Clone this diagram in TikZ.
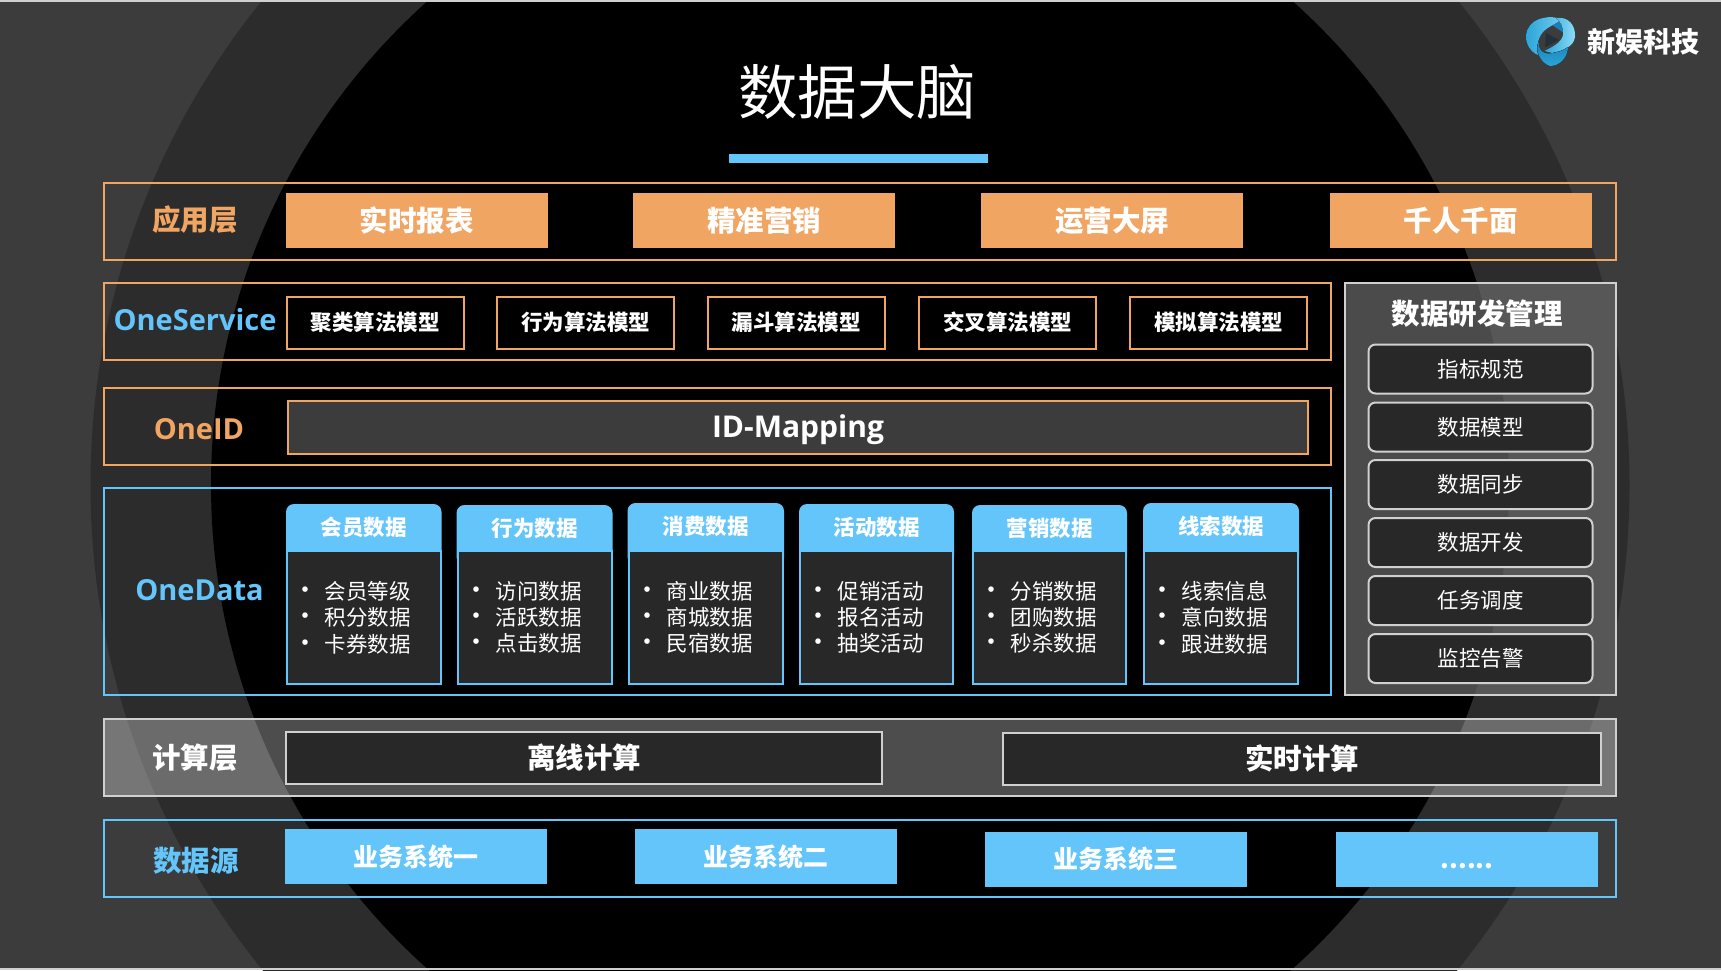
\documentclass[tikz,border=0pt]{standalone}
\usepackage{fontspec}
\setmainfont{Noto Sans CJK SC}
\newfontfamily\latinfont{Open Sans}
\definecolor{brandorange}{HTML}{F0A563}
\definecolor{brandblue}{HTML}{63C5FA}
\definecolor{ringouter}{HTML}{3C3C3C}
\definecolor{ringmid}{HTML}{2C2C2C}
\definecolor{cardfill}{HTML}{282828}
\definecolor{frameline}{HTML}{D0D0D0}
\definecolor{panellight}{HTML}{575757}
\definecolor{paneldark}{HTML}{4B4B4B}
\definecolor{logolight}{HTML}{8FDCF8}
\definecolor{logomid}{HTML}{2AA5D8}
\definecolor{logodeep}{HTML}{1B7FB5}
\definecolor{logodark}{HTML}{22303A}
\newcommand{\fsize}[1]{\fontsize{#1pt}{#1pt}\selectfont}
\newcommand{\dotitem}[1]{\makebox[20.5pt][l]{\hspace{-12pt}\fontsize{26pt}{26pt}\selectfont •}#1}

\begin{document}
\begin{tikzpicture}[x=1pt, y=-1pt, line width=2pt,
	txt/.style = {inner sep=0pt, outer sep=0pt, text=white},
	box/.style = {shape=rectangle, inner sep=0pt, outer sep=0pt, align=center, text=white},
	orangeframe/.style = {draw=brandorange},
	blueframe/.style = {draw=brandblue},
	orangebox/.style = {box, fill=brandorange, minimum width=262, minimum height=55, font=\fsize{28.5}\bfseries},
	bluebox/.style = {box, fill=brandblue, minimum width=262, minimum height=55, font=\fsize{25}\bfseries},
	algobox/.style = {box, draw=brandorange, minimum width=177, minimum height=52, font=\fsize{21.5}\bfseries},
	calcbox/.style = {box, draw=frameline, fill=cardfill, minimum height=52, font=\fsize{28.5}\bfseries},
	mgmtbox/.style = {box, draw=frameline, fill=cardfill, rounded corners=7pt, minimum width=224, minimum height=49, font=\fsize{21.5}},
	cardhead/.style = {fill=brandblue},
	cardbody/.style = {draw=brandblue, fill=cardfill},
	cardtitle/.style = {txt, font=\fsize{21.5}\bfseries},
	cardtext/.style = {txt, anchor=west, align=left, font=\fontsize{21.5pt}{26.3pt}\selectfont},
	layername/.style = {txt, font=\fsize{28.5}\bfseries},
	onename/.style = {txt, font=\latinfont\fsize{29}\bfseries}]

% background
\useasboundingbox (0,0) rectangle (1721,970);
\clip (0,0) rectangle (1721,970);
\fill[ringouter] (0,0) rectangle (1721,970);
\fill[ringmid] (860,485) circle (769.5);
\fill[black] (860,485) circle (649);
\fill[frameline] (0,0) rectangle (1721,2);
\fill[frameline] (0,968) rectangle (1721,970);

% title
\node[txt, font=\fsize{59.5}] (title) at (857,92) {数据大脑};
\fill[brandblue] (729,154) rectangle (988,163);

% logo
\begin{scope}[shift={(1526,17)}]
\fill[logodeep] (28,2) .. controls (34,1) and (40,8) .. (38,16) -- (26,8) -- cycle;
\fill[left color=logomid, right color=logolight!70!logomid] (36,2) .. controls (20,-3) and (2,2) .. (0,18) .. controls (-1,28) and (6,36) .. (12,38) .. controls (10,30) and (12,20) .. (18,14) .. controls (22,10) and (30,7) .. (36,2) -- cycle;
\fill[left color=logomid, right color=logolight] (30,1) .. controls (42,-1) and (50,8) .. (49,20) .. controls (48,30) and (36,34) .. (26,36) -- (18,34) .. controls (26,30) and (35,26) .. (37,18) .. controls (38,10) and (34,4) .. (30,1) -- cycle;
\fill[top color=logodeep, bottom color=logomid] (13,24) .. controls (12,34) and (18,38) .. (27,36) .. controls (33,35) and (38,33) .. (42,30) .. controls (42,40) and (34,49) .. (24,49) .. controls (14,46) and (8,32) .. (13,24) -- cycle;
\fill[logodark] (20,16) -- (33,23) -- (19,30) -- cycle;
\end{scope}
\node[txt, font=\fsize{28}\bfseries] (brand) at (1643,42) {新娱科技};

% frames
\draw[orangeframe] (104,183) rectangle (1615.5,260);
\draw[orangeframe] (104,283) rectangle (1331,360);
\draw[orangeframe] (104,388) rectangle (1331,465);
\draw[blueframe] (104,488) rectangle (1331,695);
\draw[blueframe] (104,820) rectangle (1615.5,897);
\begin{scope}
\clip (1345,283) rectangle (1615.5,695);
\fill[panellight] (1345,283) rectangle (1615.5,695);
\fill[paneldark] (860,485) circle (649);
\end{scope}
\draw[frameline] (1345,283) rectangle (1615.5,695);
\fill[white, opacity=.3] (104,719) rectangle (1615.5,796);
\draw[frameline] (104,719) rectangle (1615.5,796);

% application layer
\node[layername, text=brandorange] (app) at (195,220) {应用层};
\node[orangebox] (app1) at (416.5,220.5) {实时报表};
\node[orangebox] (app2) at (764,220.5) {精准营销};
\node[orangebox] (app3) at (1112,220.5) {运营大屏};
\node[orangebox] (app4) at (1460.5,220.5) {千人千面};

% OneService
\node[onename, text=brandblue] (service) at (195,320) {OneService};
\node[algobox] (algo1) at (375,322.5) {聚类算法模型};
\node[algobox] (algo2) at (585.5,322.5) {行为算法模型};
\node[algobox] (algo3) at (796,322.5) {漏斗算法模型};
\node[algobox] (algo4) at (1007.5,322.5) {交叉算法模型};
\node[algobox] (algo5) at (1218.5,322.5) {模拟算法模型};

% OneID
\node[onename, text=brandorange] (oneid) at (199,429) {OneID};
\node[box, draw=brandorange, fill=ringouter, minimum width=1020, minimum height=53, text height=24pt, text depth=4pt, font=\latinfont\fsize{30}\bfseries] (idmap) at (798,427.5) {ID-Mapping};

% OneData
\node[onename, text=brandblue] (onedata) at (199.5,590) {OneData};
\foreach \cname/\xl/\xr/\ytop/\chead/\itema/\itemb/\itemc/\xt in {
	c1/287/440.5/504/会员数据/会员等级/积分数据/卡券数据/304,
	c2/457.5/611.5/505/行为数据/访问数据/活跃数据/点击数据/475,
	c3/628.5/783/503/消费数据/商业数据/商城数据/民宿数据/646,
	c4/800/953/504/活动数据/促销活动/报名活动/抽奖活动/817,
	c5/973/1126/505/营销数据/分销数据/团购数据/秒杀数据/990,
	c6/1144/1298/503/线索数据/线索信息/意向数据/跟进数据/1161} {
	\fill[cardhead, rounded corners=8pt] (\xl-1,\ytop) -- (\xr+1,\ytop) -- (\xr+1,565) -- (\xl-1,565) -- cycle;
	\draw[cardbody] (\xl,551) rectangle (\xr,684);
	\node[cardtitle] (\cname head) at ({(\xl+\xr)/2},\ytop+23) {\chead};
	\node[cardtext] (\cname list) at (\xt,617.5) {\dotitem{\itema}\\\dotitem{\itemb}\\\dotitem{\itemc}};
}

% management panel
\node[txt, font=\fsize{28.5}\bfseries] (mgmt) at (1477,314) {数据研发管理};
\node[mgmtbox] (m1) at (1480.5,369) {指标规范};
\node[mgmtbox] (m2) at (1480.5,427) {数据模型};
\node[mgmtbox] (m3) at (1480.5,484.5) {数据同步};
\node[mgmtbox] (m4) at (1480.5,542.5) {数据开发};
\node[mgmtbox] (m5) at (1480.5,600.5) {任务调度};
\node[mgmtbox] (m6) at (1480.5,658.5) {监控告警};

% compute layer
\node[layername] (calc) at (195,758) {计算层};
\node[calcbox, minimum width=596] (calc1) at (584,758) {离线计算};
\node[calcbox, minimum width=598] (calc2) at (1302,758.5) {实时计算};

% data source
\node[layername, text=brandblue] (source) at (196,861) {数据源};
\node[bluebox] (src1) at (416,856.5) {业务系统一};
\node[bluebox] (src2) at (766,856.5) {业务系统二};
\node[bluebox] (src3) at (1116,859) {业务系统三};
\node[bluebox, text height=18pt, text depth=0pt] (src4) at (1467,859) {......};
\end{tikzpicture}
\end{document}
